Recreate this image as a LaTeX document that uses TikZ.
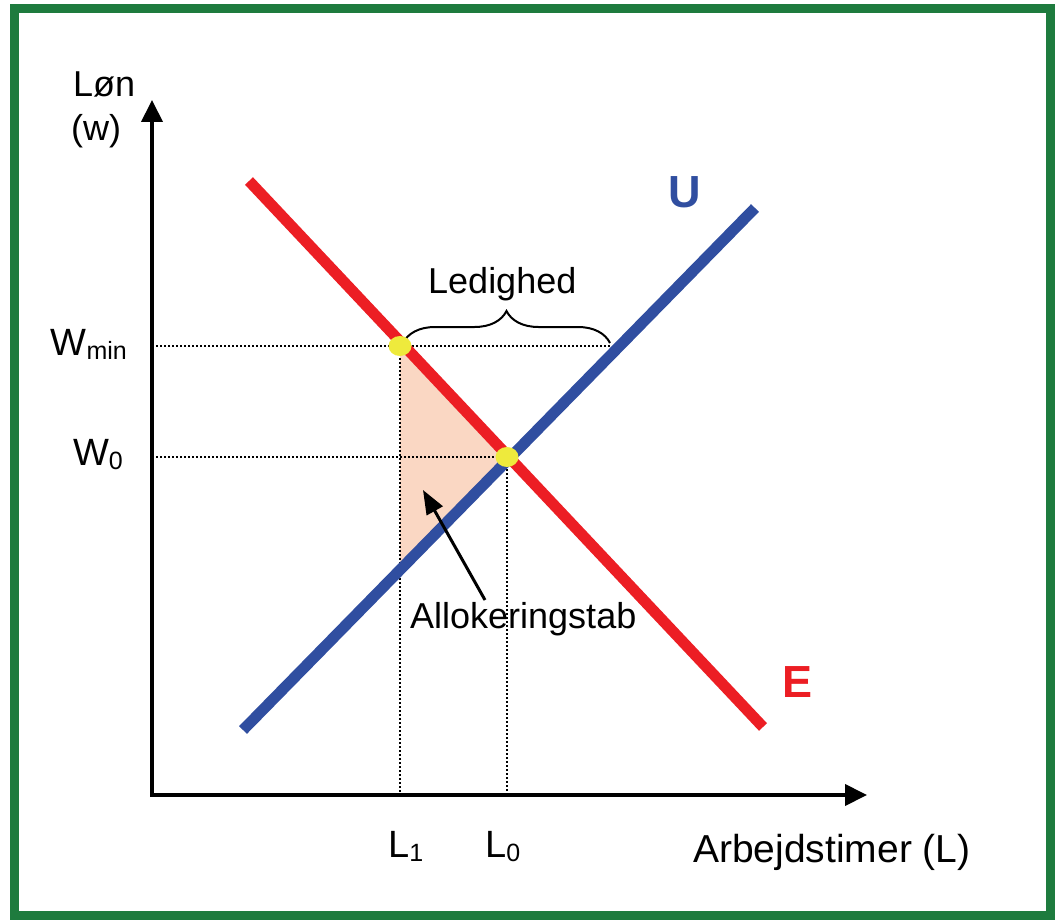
\documentclass[tikz,border=0pt]{standalone}
\usepackage{fontspec}
\setmainfont{Liberation Sans}
\usetikzlibrary{arrows.meta,decorations.pathreplacing}
\definecolor{framegreen}{RGB}{30,123,62}
\definecolor{supred}{RGB}{236,30,36}
\definecolor{demblue}{RGB}{48,78,160}
\definecolor{dotyellow}{RGB}{238,234,60}
\definecolor{lossfill}{RGB}{250,215,195}
\newcommand{\lbl}[1]{\fontsize{#1}{#1}\selectfont}
\newcommand{\sublbl}[1]{\raisebox{-4pt}{\fontsize{25}{25}\selectfont #1}}
\tikzset{
  frameline/.style={draw=framegreen, line width=9pt},
  axisline/.style={line width=4pt, -{Triangle[length=22pt,width=21pt]}},
  guide/.style={line width=1.5pt, dash pattern=on 1.5pt off 2.5pt},
  curveE/.style={draw=supred, line width=11pt},
  curveU/.style={draw=demblue, line width=11pt},
  eqdot/.style={ellipse, fill=dotyellow, minimum width=23pt, minimum height=20pt, inner sep=0pt},
  txt/.style={inner sep=0pt, font=\lbl{36}},
  bracestyle/.style={line width=2pt, decorate, decoration={brace, amplitude=32pt}},
  pointer/.style={line width=3pt, -{Triangle[length=24pt,width=18pt]}},
}
\usetikzlibrary{shapes.geometric}
\begin{document}
\begin{tikzpicture}[x=1pt,y=-1pt]
\useasboundingbox (0,0) rectangle (1055,920);
\draw[frameline] (14.5,8.5) rectangle (1050.5,915.5);

% key coordinates
\coordinate (O) at (152,795);
\coordinate (Ytip) at (152,100);
\coordinate (Xtip) at (867,795);
\coordinate (E1) at (249,181);
\coordinate (E2) at (763,727);
\coordinate (U1) at (243,730);
\coordinate (U2) at (755,208);
\coordinate (Pmin) at (400,346);
\coordinate (P0) at (507,457);
\coordinate (Pu) at (400,570);
\coordinate (Wmin) at (152,346);
\coordinate (W0) at (152,457);
\coordinate (Umin) at (610,346);
\coordinate (L1) at (400,795);
\coordinate (L0) at (507,795);
\coordinate (Bl) at (403,343);
\coordinate (Br) at (610,343);
\coordinate (Atail) at (485,600);
\coordinate (Ahead) at (423,490);

% shaded loss triangle
\fill[lossfill] (Pmin) -- (P0) -- (Pu) -- cycle;

% guides
\draw[guide] (Wmin) -- (Umin);
\draw[guide] (W0) -- (P0);
\draw[guide] (Pmin) -- (L1);
\draw[guide] (P0) -- (L0);

% axes
\draw[axisline] (O) -- (Ytip);
\draw[axisline] ([xshift=-2pt]O) -- (Xtip);

% curves
\draw[curveE] (E1) -- (E2);
\draw[curveU] (U1) -- (U2);

% brace
\draw[bracestyle] (Bl) -- (Br);

% points
\node[eqdot] (dmin) at (Pmin) {};
\node[eqdot] (d0) at (P0) {};

% arrow
\draw[pointer] (Atail) -- (Ahead);

% labels
\node[txt, anchor=base west] (lon) at (73,97) {Løn};
\node[txt, anchor=base west] (w) at (71,141) {(w)};
\node[txt, anchor=base east] (wmin) at (127,355) {\lbl{38}W\sublbl{min}};
\node[txt, anchor=base east] (wzero) at (123,465) {\lbl{38}W\sublbl{0}};
\node[txt, anchor=base west] (lone) at (388,857) {\lbl{38}L\sublbl{1}};
\node[txt, anchor=base west] (lzero) at (485,857) {\lbl{38}L\sublbl{0}};
\node[txt, anchor=base west] (xlab) at (693,862) {\lbl{39}Arbejdstimer (L)};
\node[txt, anchor=base west] (led) at (428,293) {Ledighed};
\node[txt, anchor=base west] (alloc) at (410,628) {Allokeringstab};
\node[txt, anchor=base west, text=supred] (Elab) at (782,697) {\lbl{45}\bfseries E};
\node[txt, anchor=base west, text=demblue] (Ulab) at (668,208) {\lbl{45}\bfseries U};
\end{tikzpicture}
\end{document}
